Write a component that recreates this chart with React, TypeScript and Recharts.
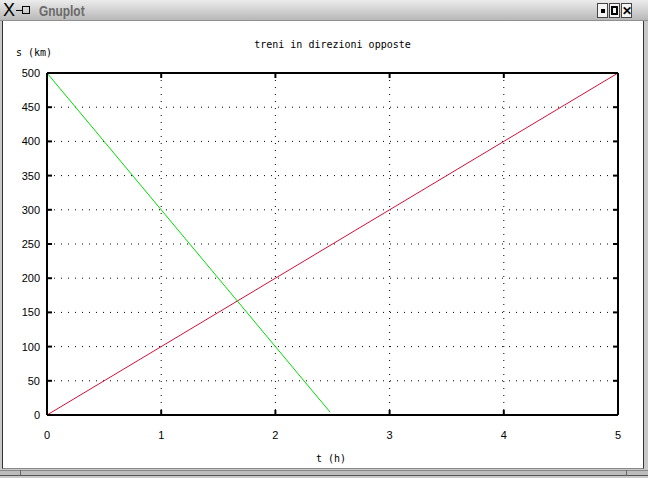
import React from "react";
import { LineChart, Line, XAxis, YAxis, CartesianGrid } from "recharts";

const chartTitle = "treni in direzioni opposte";
const xLabel = "t (h)";
const yLabel = "s (km)";
const xTicks = [0, 1, 2, 3, 4, 5];
const yTicks = [0, 50, 100, 150, 200, 250, 300, 350, 400, 450, 500];

const redT = [0, 5];
const redS = [0, 500];
const greenT = [0, 2.48];
const greenS = [500, 4];

const redData = redT.map((t, i) => ({ t, s: redS[i] }));
const greenData = greenT.map((t, i) => ({ t, s: greenS[i] }));

const tickFont = "'Liberation Sans', Arial, sans-serif";
const monoFont = "'DejaVu Sans Mono', monospace";

const BottomTick = (p: any) => (
  <g>
    <line x1={p.x} y1={p.y} x2={p.x} y2={p.y - 5} stroke="#000" strokeWidth={2} />
    <text x={p.x} y={p.y + 24} textAnchor="middle" fontFamily={tickFont} fontSize={11} fill="#000">
      {p.payload.value}
    </text>
  </g>
);
const TopTick = (p: any) => (
  <line x1={p.x} y1={p.y} x2={p.x} y2={p.y + 5} stroke="#000" strokeWidth={2} />
);
const LeftTick = (p: any) => (
  <g>
    <line x1={p.x} y1={p.y} x2={p.x + 5} y2={p.y} stroke="#000" strokeWidth={2} />
    <text x={p.x - 7} y={p.y + 4} textAnchor="end" fontFamily={tickFont} fontSize={11} fill="#000">
      {p.payload.value}
    </text>
  </g>
);
const RightTick = (p: any) => (
  <line x1={p.x} y1={p.y} x2={p.x - 5} y2={p.y} stroke="#000" strokeWidth={2} />
);

const btn: React.CSSProperties = {
  position: "absolute",
  top: 3,
  width: 11,
  height: 15,
  background: "#f4f4f4",
  border: "1px solid #444",
  boxSizing: "border-box",
  display: "flex",
  alignItems: "center",
  justifyContent: "center",
};

export default function App() {
  return (
    <div style={{ position: "fixed", left: 0, top: 0, width: 648, height: 478, background: "#c8c8c8", overflow: "hidden" }}>
      {/* title bar */}
      <div style={{ position: "absolute", left: 0, top: 0, width: 648, height: 21, background: "linear-gradient(#ececec, #b8b8b8)", borderBottom: "1px solid #909090", boxSizing: "border-box" }} />
      <div style={{ position: "absolute", left: 3, top: 1, fontFamily: tickFont, fontSize: 18, lineHeight: "18px", color: "#000" }}>X</div>
      <div style={{ position: "absolute", left: 16, top: 10, width: 6, height: 1, background: "#000" }} />
      <div style={{ position: "absolute", left: 22, top: 6, width: 8, height: 8, border: "1px solid #000", boxSizing: "border-box" }} />
      <div style={{ position: "absolute", left: 39, top: 3, fontFamily: tickFont, fontWeight: "bold", fontSize: 14, lineHeight: "16px", color: "#6a6a6a", transform: "scaleX(0.85)", transformOrigin: "left" }}>Gnuplot</div>
      <div style={{ ...btn, left: 597 }}><div style={{ width: 4, height: 4, background: "#000" }} /></div>
      <div style={{ ...btn, left: 609 }}><div style={{ width: 7, height: 9, border: "2px solid #000", boxSizing: "border-box" }} /></div>
      <div style={{ ...btn, left: 621, fontFamily: tickFont, fontWeight: "bold", fontSize: 12 }}>✕</div>
      {/* content area */}
      <div style={{ position: "absolute", left: 2, top: 21, width: 642, height: 448, background: "#fff", borderLeft: "1px solid #333", borderRight: "1px solid #333", borderBottom: "1px solid #888", boxSizing: "border-box" }} />
      {/* bottom bar */}
      <div style={{ position: "absolute", left: 0, top: 470, width: 648, height: 6, background: "#bcbcbc", borderTop: "1px solid #888", borderBottom: "1px solid #555", boxSizing: "border-box" }} />
      <div style={{ position: "absolute", left: 20, top: 470, width: 1, height: 6, background: "#666" }} />
      <div style={{ position: "absolute", left: 626, top: 470, width: 1, height: 6, background: "#666" }} />

      <div style={{ position: "absolute", left: 0, top: 0 }}>
        <LineChart width={648} height={478} margin={{ top: 72, right: 29, bottom: 33, left: 0 }}>
          <CartesianGrid xAxisId="b" yAxisId="l" stroke="#000" strokeDasharray="1 6" />
          <XAxis xAxisId="b" type="number" dataKey="t" domain={[0, 5]} ticks={xTicks} height={30} orientation="bottom"
            axisLine={{ stroke: "#000", strokeWidth: 2 }} tickLine={false} tickSize={0} tickMargin={0} tick={BottomTick} interval={0} allowDataOverflow />
          <XAxis xAxisId="t" type="number" dataKey="t" domain={[0, 5]} ticks={xTicks} height={1} orientation="top"
            axisLine={{ stroke: "#000", strokeWidth: 2 }} tickLine={false} tickSize={0} tickMargin={0} tick={TopTick} interval={0} allowDataOverflow />
          <YAxis yAxisId="l" type="number" dataKey="s" domain={[0, 500]} ticks={yTicks} width={47} orientation="left"
            axisLine={{ stroke: "#000", strokeWidth: 2 }} tickLine={false} tickSize={0} tickMargin={0} tick={LeftTick} interval={0} allowDataOverflow />
          <YAxis yAxisId="r" type="number" dataKey="s" domain={[0, 500]} ticks={yTicks} width={1} orientation="right"
            axisLine={{ stroke: "#000", strokeWidth: 2 }} tickLine={false} tickSize={0} tickMargin={0} tick={RightTick} interval={0} allowDataOverflow />
          <Line xAxisId="b" yAxisId="l" data={redData} dataKey="s" type="linear" stroke="#d0103a" strokeWidth={1} dot={false} isAnimationActive={false} />
          <Line xAxisId="b" yAxisId="l" data={greenData} dataKey="s" type="linear" stroke="#00dd00" strokeWidth={1} dot={false} isAnimationActive={false} />
        </LineChart>
      </div>

      <div style={{ position: "absolute", left: 0, width: 648, top: 39, textAlign: "center", fontFamily: monoFont, fontSize: 10, color: "#000", paddingLeft: 17, boxSizing: "border-box" }}>{chartTitle}</div>
      <div style={{ position: "absolute", left: 16, top: 47, fontFamily: monoFont, fontSize: 10, color: "#000" }}>{yLabel}</div>
      <div style={{ position: "absolute", left: 316, top: 453, fontFamily: monoFont, fontSize: 10, color: "#000" }}>{xLabel}</div>
    </div>
  );
}
